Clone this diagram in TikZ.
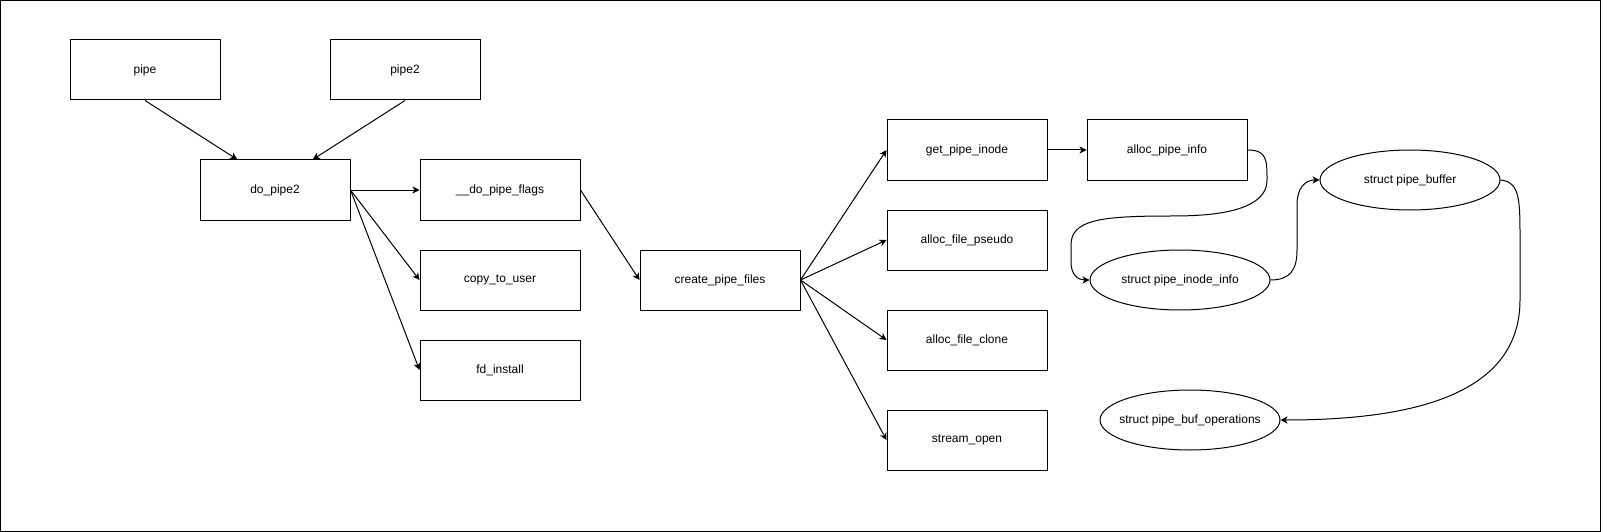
\documentclass[tikz,border=0pt]{standalone}
\usepackage{fontspec}
\setmainfont{Liberation Sans}
\usetikzlibrary{arrows.meta,calc,shapes.geometric}

\begin{document}
\begin{tikzpicture}[x=1pt,y=-1pt,line width=1pt,every node/.style={font=\fontsize{12}{14}\selectfont},box/.style={draw,minimum width=160pt,minimum height=60pt,inner sep=0pt},callbox/.style={box,minimum width=150pt},blob/.style={draw,ellipse,minimum width=180pt,minimum height=60pt,inner sep=0pt},arrow/.style={-{Stealth[length=7pt,width=7pt,inset=2pt]}}]
\useasboundingbox (0,0) rectangle (1601,532);
\draw (0.5,0.5) rectangle (1600.5,531.5);

\node[callbox] (pipe) at (145,70) {pipe}; \node[callbox] (pipetwo) at (405,70) {pipe2}; \node[callbox] (dopipe) at (275,190) {do\_pipe2};
\node[box] (flags) at (500,190) {\_\_do\_pipe\_flags}; \node[box] (copy) at (500,280) {copy\_to\_user}; \node[box] (fdinst) at (500,370) {fd\_install};
\node[box] (files) at (720,280) {create\_pipe\_files};
\node[box] (inode) at (967,150) {get\_pipe\_inode}; \node[box] (pseudo) at (967,240) {alloc\_file\_pseudo}; \node[box] (clone) at (967,340) {alloc\_file\_clone}; \node[box] (stream) at (967,440) {stream\_open};
\node[box] (info) at (1167,150) {alloc\_pipe\_info};
\node[blob,label=center:{struct pipe\_inode\_info}] (inodeinfo) at (1180,280) {}; \node[blob,label=center:{struct pipe\_buffer}] (buffer) at (1410,180) {}; \node[blob,label=center:{struct pipe\_buf\_operations}] (bufops) at (1190,420) {};

\draw[arrow] (pipe.south) -- ($(dopipe.north west)!0.25!(dopipe.north east)$); \draw[arrow] (pipetwo.south) -- ($(dopipe.north west)!0.75!(dopipe.north east)$);
\draw[arrow] (dopipe.east) -- (flags.west); \draw[arrow] (dopipe.east) -- (copy.west); \draw[arrow] (dopipe.east) -- (fdinst.west);
\draw[arrow] (flags.east) -- (files.west);
\draw[arrow] (files.east) -- (inode.west); \draw[arrow] (files.east) -- (pseudo.west); \draw[arrow] (files.east) -- (clone.west); \draw[arrow] (files.east) -- (stream.west);
\draw[arrow] (inode.east) -- (info.west);
\draw[arrow] (info.east) .. controls (1267,150) and (1267,160) .. (1267,180) .. controls (1267,215) and (1200,216) .. (1170,216) .. controls (1100,216) and (1071,220) .. (1071,245) -- (1071,262) .. controls (1071,275) and (1078,280) .. (inodeinfo.west);
\draw[arrow] (inodeinfo.east) .. controls (1290,280) and (1297,270) .. (1297,250) -- (1297,205) .. controls (1297,188) and (1305,180) .. (buffer.west);
\draw[arrow] (buffer.east) .. controls (1520,182) and (1520,200) .. (1520,240) -- (1520,300) .. controls (1520,400) and (1400,420) .. (bufops.east);

\end{tikzpicture}
\end{document}
